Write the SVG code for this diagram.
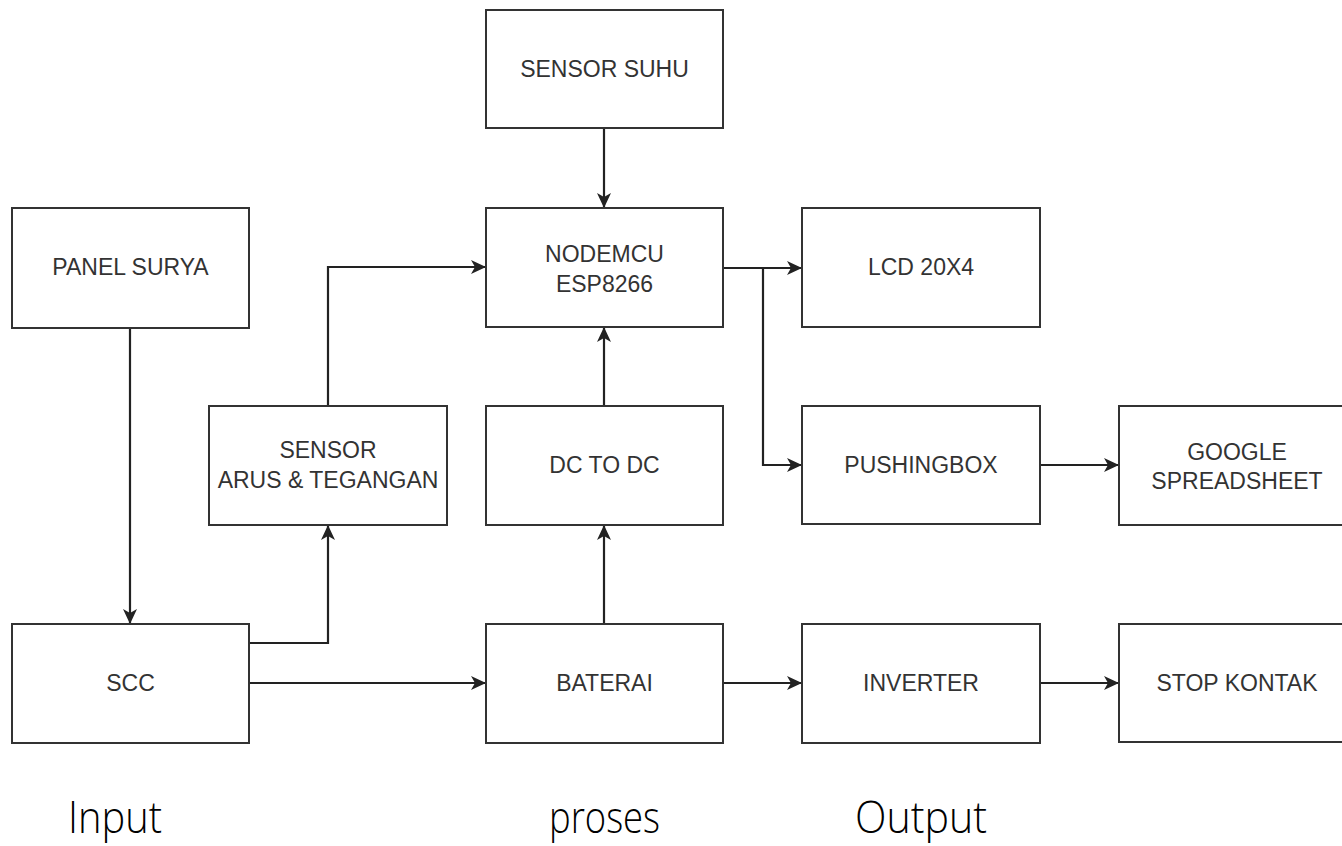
<svg xmlns="http://www.w3.org/2000/svg" width="1342" height="846" viewBox="0 0 1342 846">
<style>
.box{fill:#ffffff;stroke:#333333;stroke-width:2}
.lbl{font-family:"Liberation Sans",Arial,sans-serif;font-size:23px;fill:#333333;text-anchor:middle}
.conn{fill:none;stroke:#222222;stroke-width:2.2}
.big{font-family:"Open Sans","Noto Sans",sans-serif;font-size:45px;font-weight:300;fill:#000000}
</style>
<defs>
<marker id="arr" markerUnits="userSpaceOnUse" markerWidth="16" markerHeight="14" refX="15" refY="7" orient="auto">
<path d="M0,0 L15,7 L0,14 L4,7 Z" fill="#222222"/>
</marker>
</defs>
<rect width="1342" height="846" fill="#ffffff"/>
<g id="connectors">
<path class="conn" d="M130,328 L130,624" marker-end="url(#arr)"/>
<path class="conn" d="M249,643 L328,643 L328,525" marker-end="url(#arr)"/>
<path class="conn" d="M328,406 L328,267 L486,267" marker-end="url(#arr)"/>
<path class="conn" d="M249,683 L486,683" marker-end="url(#arr)"/>
<path class="conn" d="M604,624 L604,525" marker-end="url(#arr)"/>
<path class="conn" d="M604,406 L604,327" marker-end="url(#arr)"/>
<path class="conn" d="M604,128 L604,208" marker-end="url(#arr)"/>
<path class="conn" d="M723,268 L802,268" marker-end="url(#arr)"/>
<path class="conn" d="M763,268 L763,465 L802,465" marker-end="url(#arr)"/>
<path class="conn" d="M1040,465 L1119,465" marker-end="url(#arr)"/>
<path class="conn" d="M723,683 L802,683" marker-end="url(#arr)"/>
<path class="conn" d="M1040,683 L1119,683" marker-end="url(#arr)"/>
</g>
<g id="panel-surya"><rect class="box" x="12" y="208" width="237" height="120"/><text class="lbl" x="130.5" y="275">PANEL SURYA</text></g>
<g id="scc"><rect class="box" x="12" y="624" width="237" height="119"/><text class="lbl" x="130.5" y="691">SCC</text></g>
<g id="sensor-arus"><rect class="box" x="209" y="406" width="238" height="119"/><text class="lbl" x="328" y="458">SENSOR</text><text class="lbl" x="328" y="488">ARUS &amp; TEGANGAN</text></g>
<g id="sensor-suhu"><rect class="box" x="486" y="10" width="237" height="118"/><text class="lbl" x="604.5" y="77">SENSOR SUHU</text></g>
<g id="nodemcu"><rect class="box" x="486" y="208" width="237" height="119"/><text class="lbl" x="604.5" y="262">NODEMCU</text><text class="lbl" x="604.5" y="292">ESP8266</text></g>
<g id="dc-to-dc"><rect class="box" x="486" y="406" width="237" height="119"/><text class="lbl" x="604.5" y="473">DC TO DC</text></g>
<g id="baterai"><rect class="box" x="486" y="624" width="237" height="119"/><text class="lbl" x="604.5" y="691">BATERAI</text></g>
<g id="lcd"><rect class="box" x="802" y="208" width="238" height="119"/><text class="lbl" x="921" y="275">LCD 20X4</text></g>
<g id="pushingbox"><rect class="box" x="802" y="406" width="238" height="118"/><text class="lbl" x="921" y="473">PUSHINGBOX</text></g>
<g id="inverter"><rect class="box" x="802" y="624" width="238" height="119"/><text class="lbl" x="921" y="691">INVERTER</text></g>
<g id="google-spreadsheet"><rect class="box" x="1119" y="406" width="237" height="119"/><text class="lbl" x="1237" y="460">GOOGLE</text><text class="lbl" x="1237" y="489">SPREADSHEET</text></g>
<g id="stop-kontak"><rect class="box" x="1119" y="624" width="237" height="118"/><text class="lbl" x="1237" y="691">STOP KONTAK</text></g>
<g id="section-labels">
<text class="big" x="68" y="833" textLength="94" lengthAdjust="spacingAndGlyphs">Input</text>
<text class="big" x="549" y="833" textLength="111" lengthAdjust="spacingAndGlyphs">proses</text>
<text class="big" x="855" y="833" textLength="132" lengthAdjust="spacingAndGlyphs">Output</text>
</g>
</svg>
